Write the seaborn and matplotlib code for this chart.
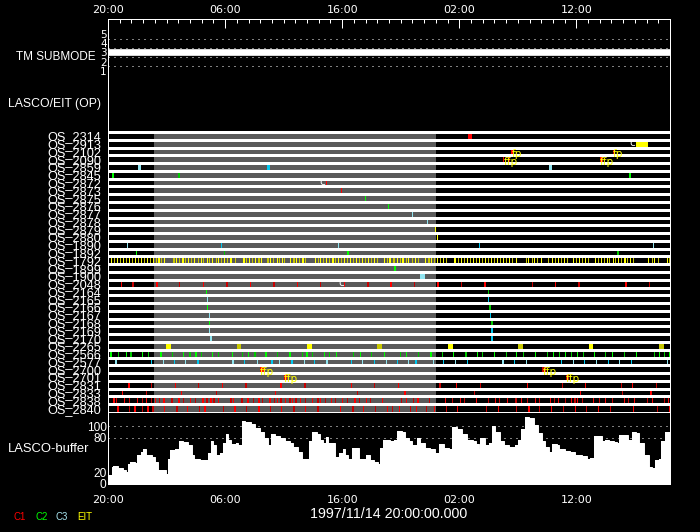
import matplotlib
matplotlib.use("Agg")
import matplotlib.pyplot as plt
import numpy as np
import pandas as pd
import seaborn as sns

# ---------------- data (hours after 1997/11/14 20:00) ----------------
time_ticks = [0, 10, 20, 30, 40]
time_labels = ["20:00", "06:00", "16:00", "02:00", "12:00"]

tm_hours = [0, 48]
tm_mode = [3, 3]

shade_start, shade_end = 3.9, 28.0

os_labels = ["OS_2314", "OS_2913", "OS_2102", "OS_2090", "OS_2859", "OS_2845",
             "OS_2872", "OS_2873", "OS_2875", "OS_2876", "OS_2877", "OS_2878",
             "OS_2879", "OS_2880", "OS_1890", "OS_1892", "OS_1792", "OS_1899",
             "OS_1900", "OS_2048", "OS_2164", "OS_2165", "OS_2166", "OS_2167",
             "OS_2168", "OS_2169", "OS_2170", "OS_2265", "OS_2566", "OS_2577",
             "OS_2700", "OS_2701", "OS_2831", "OS_2833", "OS_2838", "OS_2840"]
os_instr = ["C1", "EIT", "C1", "C1", "C3", "C2", "C1", "C1", "C2", "C2", "C3", "C3",
            "EIT", "EIT", "C3", "C2", "EIT", "C2", "C3", "C1", "C2", "C3", "C2", "C3",
            "C2", "C3", "C3", "EIT", "C2", "C3", "C1", "C1", "C1", "C1", "C1", "C1"]

# event start times per row, and durations where an event is wider than a tick
t_2314 = [30.74];                  d_2314 = [0.34]
t_2913 = [45.06];                  d_2913 = [1.03]
t_2102 = [34.45, 43.15];           d_2102 = [0.14, 0.17]
t_2090 = [33.76, 34.19, 42.0];     d_2090 = [0.1, 0.14, 0.28]
t_2859 = [2.59, 13.58, 37.66];     d_2859 = [0.23, 0.22, 0.23]
t_2845 = [0.31, 5.98, 44.49];      d_2845 = [0.17, 0.14, 0.14]
t_2872 = [18.59]
t_2873 = [19.87];                  d_2873 = [0.11]
t_2875 = [21.92]
t_2876 = [23.88]
t_2877 = [25.99]
t_2878 = [27.27]
t_2879 = [27.93]
t_2880 = [28.12]
t_1890 = [1.62, 9.65, 19.67, 31.71, 46.57]
t_1892 = [2.39, 9.91, 20.41, 43.5];  d_1892 = [0.1, 0.1, 0.14, 0.17]
t_1792 = [0.26, 0.51, 0.77, 1.02, 1.28, 1.54, 1.79, 2.05, 2.31, 2.56, 2.82, 3.07,
          3.33, 3.59, 3.87, 4.07, 4.30, 4.53, 4.78, 5.58, 5.81, 6.06, 6.35, 6.58,
          6.86, 7.09, 7.37, 7.66, 7.91, 8.14, 8.43, 8.65, 8.91, 9.19, 9.42, 9.65,
          9.93, 10.19, 10.45, 10.85, 11.56, 11.78, 12.04, 12.30, 12.55, 12.84, 13.07,
          13.61, 13.83, 14.12, 14.40, 14.60, 14.83, 15.06, 15.54, 15.83, 16.08, 16.34,
          16.60, 16.85, 17.68, 17.91, 18.10, 18.39, 18.62, 18.87, 19.16, 19.39, 19.67,
          19.90, 20.15, 20.41, 20.67, 20.95, 21.18, 21.46, 21.72, 21.95, 22.23, 22.46,
          22.69, 22.94, 23.60, 23.83, 24.03, 24.37, 24.65, 24.94, 25.14, 25.42, 25.65,
          25.93, 26.22, 26.44, 27.07, 27.36, 27.58, 27.84, 28.12, 28.35, 28.64, 28.86,
          29.58, 29.92, 30.15, 30.40, 30.63, 30.91, 31.14, 31.43, 31.68, 31.91, 32.19,
          32.42, 32.71, 32.97, 33.19, 33.48, 33.76, 33.99, 34.25, 34.47, 34.81, 35.67,
          35.89, 36.18, 36.41, 36.66, 36.98, 37.60, 37.89, 38.17, 38.40, 38.66, 38.94,
          39.17, 39.74, 39.97, 40.22, 40.45, 40.73, 40.96, 41.59, 41.82, 42.07, 42.36,
          42.58, 42.81, 43.10, 43.30, 43.58, 43.81, 44.10, 44.35, 44.58, 44.86, 46.14,
          46.43, 46.66, 46.94, 47.71, 47.94]
t_1899 = [24.45];                  d_1899 = [0.14]
t_1900 = [26.64];                  d_1900 = [0.43]
t_2048 = [1.11, 2.08, 4.13, 6.06, 8.14, 10.10, 12.15, 14.12, 16.17, 18.13, 20.18,
          22.15, 24.08, 26.16, 28.09, 30.17, 32.11, 36.18, 38.2, 40.17, 44.15, 46.2]
d_2048 = [0.1, 0.13, 0.1, 0.13, 0.1, 0.13, 0.1, 0.13, 0.1, 0.1, 0.1,
          0.1, 0.14, 0.1, 0.14, 0.1, 0.14, 0.14, 0.1, 0.13, 0.14, 0.1]
t_2164 = [8.37, 32.48]
t_2165 = [8.45, 32.48]
t_2166 = [8.48, 32.57]
t_2167 = [8.62, 32.65]
t_2168 = [8.65, 32.74]
t_2169 = [8.65, 32.74]
t_2170 = [8.74, 32.74]
t_2265 = [4.95, 11.02, 17.0, 22.97, 29.06, 35.01, 41.08, 47.05]
d_2265 = [0.40, 0.34, 0.42, 0.43, 0.40, 0.43, 0.34, 0.43]
t_2566 = [0.20, 0.88, 1.51, 1.91, 2.93, 3.44, 4.47, 5.44, 6.43, 6.95, 7.46, 7.91,
          8.91, 9.42, 10.56, 11.47, 11.93, 12.50, 13.44, 14.46, 15.49, 16.54, 16.94,
          17.45, 18.47, 18.90, 19.50, 20.95, 21.49, 22.49, 23.54, 24.96, 25.48, 26.50,
          27.53, 28.49, 29.49, 30.52, 31.54, 31.97, 32.99, 33.96, 34.81, 35.47, 36.49,
          37.52, 37.97, 38.54, 39.03, 39.51, 40.02, 40.54, 41.53, 42.44, 43.01, 44.04,
          45.06, 46.60, 47.05, 47.51, 47.92]
t_2577 = [0.63, 3.64, 4.67, 5.66, 6.60, 7.63, 10.62, 11.64, 12.70, 13.95, 14.63,
          15.66, 16.71, 17.62, 18.65, 20.72, 21.66, 22.69, 23.71, 24.71, 25.65, 26.25,
          27.73, 28.64, 29.66, 30.69, 33.68, 34.70, 35.72, 38.71, 39.74, 40.68, 41.70,
          42.73, 43.67, 44.69, 47.71]
t_2700 = [13.0, 37.1];             d_2700 = [0.3, 0.3]
t_2701 = [15.03, 39.1];            d_2701 = [0.3, 0.3]
t_2831 = [1.74, 3.70, 5.75, 7.71, 9.76, 11.73, 14.72, 16.77, 20.78, 22.74, 24.79,
          28.30, 29.75, 31.80, 35.81, 38.80, 40.76, 43.84, 44.78, 46.83]
t_2833 = [1.22, 3.27, 6.26, 9.25, 14.29, 21.29, 25.31, 31.28, 40.34, 43.92, 46.32]
t_2838 = [0.46, 0.68, 1.39, 1.82, 2.45, 2.87, 3.27, 3.70, 4.04, 4.38, 4.73, 5.41,
          6.01, 6.43, 7.03, 7.40, 8.06, 8.40, 8.74, 9.00, 9.42, 10.45, 10.70, 11.39,
          11.90, 12.41, 12.84, 13.18, 13.78, 14.20, 14.46, 14.72, 15.14, 15.49, 15.74,
          16.00, 16.42, 16.85, 17.45, 17.88, 18.13, 18.56, 19.07, 19.41, 20.01, 20.44,
          21.04, 21.46, 22.06, 22.40, 23.43, 24.99, 25.48, 26.07, 26.42, 27.44, 28.81,
          29.40, 30.09, 30.43, 31.45, 32.48, 33.08, 33.42, 34.10, 34.79, 35.30, 35.81,
          36.49, 36.83, 37.77, 38.12, 38.46, 39.06, 39.57, 39.83, 40.08, 40.51, 41.45,
          41.96, 42.47, 43.07, 44.09, 44.43, 44.95, 46.06, 46.48, 47.51, 47.85]
t_2840 = [0.80, 1.82, 2.25, 2.93, 3.36, 3.79, 4.81, 5.84, 6.77, 7.80, 8.23, 9.85,
          10.79, 11.81, 12.84, 13.86, 14.80, 15.83, 16.85, 17.88, 19.84, 20.87, 21.80,
          22.83, 23.85, 24.28, 24.88, 25.82, 26.33, 27.18, 27.87, 28.89, 29.83, 32.31,
          33.33, 34.87, 35.90, 36.83, 37.86, 38.88, 39.91, 40.85, 41.87, 42.90, 44.86,
          46.91, 47.94]

os_times = [t_2314, t_2913, t_2102, t_2090, t_2859, t_2845, t_2872, t_2873, t_2875,
            t_2876, t_2877, t_2878, t_2879, t_2880, t_1890, t_1892, t_1792, t_1899,
            t_1900, t_2048, t_2164, t_2165, t_2166, t_2167, t_2168, t_2169, t_2170,
            t_2265, t_2566, t_2577, t_2700, t_2701, t_2831, t_2833, t_2838, t_2840]
os_durs = {0: d_2314, 1: d_2913, 2: d_2102, 3: d_2090, 4: d_2859, 5: d_2845,
           7: d_2873, 15: d_1892, 17: d_1899, 18: d_1900, 19: d_2048, 27: d_2265,
           30: d_2700, 31: d_2701}

# polarizer-sequence notes and "c" marks
note_row = [2, 2, 3, 3, 30, 30, 31, 31]
note_time = [34.45, 43.15, 33.76, 42.0, 13.0, 37.1, 15.03, 39.1]
note_text = ["fp", "fp", "ffp", "ffp", "ffp", "ffp", "ffp", "ffp"]
mark_row = [1, 6, 19]
mark_time = [45.04, 18.57, 20.16]

buf_hours = [0.0, 0.37, 0.46, 0.88, 1.31, 1.51, 1.68, 1.88, 2.31, 2.51,
             2.82, 3.02, 3.22, 3.73, 4.02, 4.30, 4.73, 4.96, 5.10, 5.30,
             5.73, 6.07, 6.44, 6.81, 7.15, 7.38, 7.86, 8.38, 8.58, 8.80,
             9.00, 9.23, 9.57, 9.86, 10.06, 10.28, 10.51, 10.91, 11.14, 11.42,
             11.71, 12.19, 12.56, 12.99, 13.36, 13.70, 13.90, 14.27, 14.70, 15.13,
             15.56, 15.84, 16.21, 16.61, 16.92, 17.18, 17.41, 17.83, 18.12, 18.40,
             18.60, 18.83, 19.12, 19.40, 19.69, 20.03, 20.26, 20.54, 20.83, 21.17,
             21.45, 21.82, 22.02, 22.39, 22.68, 23.05, 23.25, 23.45, 23.82, 24.10,
             24.39, 24.67, 25.10, 25.38, 25.73, 25.95, 26.38, 26.67, 27.09, 27.52,
             27.89, 28.23, 28.66, 29.09, 29.37, 29.80, 30.23, 30.66, 31.14, 31.42,
             31.65, 31.79, 32.22, 32.51, 32.79, 33.08, 33.50, 33.79, 34.22, 34.73,
             35.01, 35.30, 35.58, 35.93, 36.35, 36.72, 37.07, 37.35, 37.69, 37.92,
             38.35, 38.55, 39.06, 39.49, 39.91, 40.48, 40.91, 41.20, 41.48, 41.85,
             42.19, 42.48, 42.82, 43.19, 43.48, 43.68, 44.13, 44.42, 44.76, 45.10,
             45.38, 45.75, 46.18, 46.47, 46.69, 47.04, 47.26, 47.55, 48.0]
buf_level = [15, 30, 32, 28, 24, 21, 35, 38, 37, 51,
             56, 61, 50, 47, 38, 25, 24, 18, 44, 59,
             61, 75, 73, 68, 50, 43, 41, 41, 53, 75,
             68, 50, 53, 71, 86, 77, 69, 71, 68, 110,
             108, 105, 97, 90, 80, 68, 86, 83, 80, 74,
             71, 65, 56, 43, 44, 74, 90, 87, 77, 71,
             81, 71, 71, 47, 53, 61, 51, 44, 62, 62,
             44, 43, 50, 41, 38, 35, 62, 77, 77, 74,
             77, 92, 90, 79, 74, 68, 80, 71, 63, 61,
             53, 70, 62, 61, 99, 95, 87, 77, 74, 69,
             60, 79, 68, 71, 100, 90, 74, 67, 65, 68,
             77, 95, 116, 115, 103, 89, 74, 65, 56, 69,
             68, 60, 57, 56, 51, 48, 44, 45, 83, 83,
             75, 77, 74, 73, 71, 85, 85, 77, 90, 89,
             71, 50, 30, 28, 41, 44, 74, 90, 86]

# ---------------- style ----------------
SHADES = {"C1": ["#ff0000", "#c80000"], "C2": ["#00ff00", "#00c800"],
          "C3": ["#90e4f0", "#00c8f0"], "EIT": ["#ffff00", "#c8c800"]}
LEGEND = {"C1": "#ff0000", "C2": "#00ff00", "C3": "#a8e4f0", "EIT": "#ffff00"}
GREY = "#5a5a5a"
THIN = 0.1
W, H = 700, 532

sns.set_theme(style="dark", rc={"figure.facecolor": "black", "axes.facecolor": "black",
                                "axes.edgecolor": "white", "axes.linewidth": 0.72,
                                "text.color": "white", "xtick.color": "white",
                                "ytick.color": "white", "axes.grid": False,
                                "patch.edgecolor": "none", "patch.linewidth": 0})
plt.rcParams["font.family"] = ["Liberation Sans", "DejaVu Sans"]


def box(left, top, right, bottom):
    return [left / W, 1 - bottom / H, (right - left) / W, (bottom - top) / H]


fig = plt.figure(figsize=(W / 100, H / 100), dpi=100)
ax_tm = fig.add_axes(box(108, 19, 670, 76))
ax_os = fig.add_axes(box(108, 76, 670, 412))
ax_buf = fig.add_axes(box(108, 412, 670, 484))
for ax in (ax_tm, ax_os, ax_buf):
    ax.set_xlim(0, 48)
    ax.set_facecolor("black")
    for s in ax.spines.values():
        s.set_color("white")
        s.set_linewidth(0.72)

# ---- TM submode ----
sns.lineplot(x=tm_hours, y=tm_mode, color="white", linewidth=4.8, ax=ax_tm,
             solid_capstyle="butt")
ax_tm.hlines([1.5, 2.5, 3.5, 4.5], 0, 48, colors="white", linewidth=0.72,
             linestyles=(0, (1, 5)))
ax_tm.set_ylim(0.47, 6.6)
ax_tm.set_yticks([1, 2, 3, 4, 5])
ax_tm.set_yticklabels(["1", "2", "3", "4", "5"], fontsize=7.5, family="DejaVu Sans")
ax_tm.tick_params(axis="y", length=0, pad=1)
ax_tm.set_xticks(time_ticks)
ax_tm.set_xticklabels(time_labels, fontsize=8, family="DejaVu Sans")
ax_tm.set_xticks(np.arange(0, 49, 1), minor=True)
ax_tm.tick_params(axis="x", which="both", direction="in", top=True, bottom=False,
                  labeltop=True, labelbottom=False, color="white", width=0.72, pad=3)
ax_tm.tick_params(axis="x", which="major", length=6.3)
ax_tm.tick_params(axis="x", which="minor", length=3.1)
ax_tm.set_xlabel("")
ax_tm.set_ylabel("")

# ---- LASCO/EIT (OP) rows ----
n_rows = len(os_labels)
ax_os.set_ylim(n_rows, -7.2)
ax_os.broken_barh([(shade_start, shade_end - shade_start)], (0, n_rows),
                  facecolors=GREY, edgecolor="none", linewidth=0,
                  antialiased=False, zorder=1)
for r, times in enumerate(os_times):
    durs = os_durs.get(r, [THIN] * len(times))
    pair = SHADES[os_instr[r]]
    for j, (t, d) in enumerate(zip(times, durs)):
        ax_os.broken_barh([(t, d)], (r, 1), facecolors=pair[j % 2],
                          edgecolor="none", linewidth=0, antialiased=False, zorder=2)
ax_os.hlines(np.arange(n_rows), 0, 48, colors="white", linewidth=0.9,
             antialiased=False, zorder=3)
for r, t, s in zip(note_row, note_time, note_text):
    ax_os.text(t, r + 0.8, s, color="#ffff00", fontsize=7.5, ha="left", va="center",
               family="DejaVu Sans", zorder=4)
for r, t in zip(mark_row, mark_time):
    ax_os.text(t, r + 0.45, "c", color="white", fontsize=7.5, ha="right", va="center",
               family="DejaVu Sans", zorder=4)
ax_os.set_yticks(np.arange(n_rows) + 0.5)
ax_os.set_yticklabels(os_labels, fontsize=9.2)
ax_os.tick_params(axis="y", length=0, pad=5)
ax_os.set_xticks([])
ax_os.spines["top"].set_visible(False)
ax_os.spines["bottom"].set_visible(False)

# ---- LASCO buffer ----
buf = pd.DataFrame({"hour": buf_hours, "level": buf_level})
ax_buf.fill_between(buf["hour"], buf["level"], 0, step="post", color="white",
                    linewidth=0)
sns.lineplot(data=buf, x="hour", y="level", drawstyle="steps-post", color="white",
             linewidth=0.7, estimator=None, ax=ax_buf)
ax_buf.hlines([80, 100], 0, 48, colors="white", linewidth=0.72,
              linestyles=(0, (1, 5)))
ax_buf.set_ylim(0, 125)
ax_buf.set_yticks([0, 20, 80, 100])
ax_buf.set_yticklabels(["0", "20", "80", "100"], fontsize=8.6)
ax_buf.tick_params(axis="y", length=0, pad=1)
ax_buf.set_xticks(time_ticks)
ax_buf.set_xticklabels(time_labels, fontsize=8, family="DejaVu Sans")
ax_buf.tick_params(axis="x", length=0, pad=8)
ax_buf.set_xlabel("")
ax_buf.set_ylabel("")

# ---- panel titles and footer ----
fig.text(96 / W, 1 - 57 / H, "TM SUBMODE", fontsize=8.5, ha="right", va="center")
fig.text(8 / W, 1 - 104 / H, "LASCO/EIT (OP)", fontsize=8.8, ha="left", va="center")
fig.text(8 / W, 1 - 449 / H, "LASCO-buffer", fontsize=9.4, ha="left", va="center")
fig.text(389 / W, 1 - 514 / H, "1997/11/14 20:00:00.000", fontsize=10.3,
         ha="center", va="center")
for x_px, name in zip([13, 35, 56, 77], ["C1", "C2", "C3", "EIT"]):
    fig.text(x_px / W, 1 - 517 / H, name, color=LEGEND[name], fontsize=7,
             ha="left", va="center")

fig.savefig("out.png", dpi=100, facecolor="black")
